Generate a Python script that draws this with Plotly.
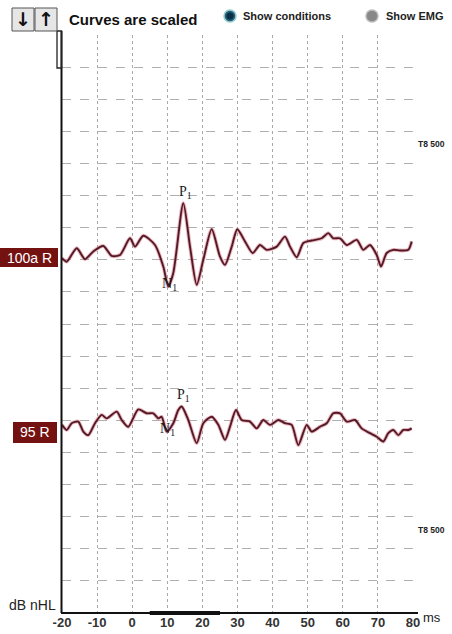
import plotly.graph_objects as go

# ---- data ----
t1 = [-20, -18.66, -15.81, -13.45, -11.08, -8.23, -5.84, -3.48, -0.63, 0.80, 3.16, 6.50, 8.86,
      10.28, 11.71, 14.56, 16.47, 18.38, 20.26, 22.65, 25.01, 26.44, 28.35, 29.94, 32.14, 34.33,
      36.41, 38.32, 41.17, 43.53, 44.96, 46.87, 48.75, 51.14, 53.99, 55.87, 57.29, 59.20, 61.11,
      63.96, 65.84, 67.75, 69.66, 70.88, 72.51, 74.39, 76.30, 78.66, 79.63]
a1 = [-0.01, -0.12, 0.30, -0.04, 0.20, 0.37, 0.06, 0.09, 0.61, 0.35, 0.69, 0.40, -0.27,
      -0.89, -0.47, 1.70, 0.35, -0.84, -0.06, 0.89, 0.04, -0.22, 0.35, 0.89, 0.51, 0.15,
      0.40, 0.25, 0.35, 0.66, 0.35, 0.02, 0.46, 0.54, 0.61, 0.77, 0.61, 0.61, 0.40,
      0.56, 0.25, 0.40, 0.09, -0.27, 0.15, 0.25, 0.23, 0.25, 0.51]

t2 = [-20, -18.66, -17.24, -15.36, -13.93, -12.51, -10.60, -8.69, -7.26, -4.42, -2.99, -1.11,
      1.74, 4.13, 6.01, 7.44, 8.40, 9.83, 11.71, 13.13, 14.10, 15.98, 18.38, 20.26, 22.65,
      24.53, 26.44, 27.86, 29.57, 31.20, 33.56, 35.47, 37.35, 39.26, 41.62, 43.53, 45.44,
      47.32, 49.72, 51.14, 53.50, 55.41, 57.29, 59.20, 61.11, 63.48, 65.38, 67.75, 69.66,
      71.54, 72.96, 74.39, 75.81, 77.24, 78.66, 79.63]
a2 = [0.16, 0.00, 0.21, 0.26, -0.05, -0.16, 0.21, 0.47, 0.36, 0.57, 0.31, 0.10,
      0.64, 0.52, 0.52, 0.36, 0.41, -0.05, 0.21, 0.62, 0.73, 0.31, -0.41, 0.21, 0.41,
      0.16, -0.31, 0.10, 0.62, 0.31, 0.26, 0.05, 0.31, 0.16, 0.31, 0.21, 0.16,
      -0.47, 0.16, -0.05, 0.10, 0.21, 0.52, 0.52, 0.26, 0.31, 0.05, -0.10, -0.21,
      -0.36, -0.10, 0.00, -0.16, 0.00, 0.00, 0.05]

trace_labels = ["100a R", "95 R"]
x_ticks = [-20, -10, 0, 10, 20, 30, 40, 50, 60, 70, 80]
stim_window = [5, 25]

# ---- layout constants ----
W = 452
S = 642 / 634          # compensate vertical viewport scaling
H = 642
L, R = 62, 413
T, B = 35 * S, 613 * S
PW, PH = R - L, B - T
YMAX = 18
offsets = [11.06, 5.70]

def px(x):
    return (x - L) / PW

def py(y):
    return (B - y * S) / PH

fig = go.Figure()

for t, a, off in [(t1, a1, offsets[0]), (t2, a2, offsets[1])]:
    y = [v + off for v in a]
    fig.add_trace(go.Scatter(x=t, y=y, mode="lines",
                             line=dict(color="rgba(215,110,125,0.5)", width=3.8, shape="spline", smoothing=0.7),
                             hoverinfo="skip", showlegend=False))
    fig.add_trace(go.Scatter(x=t, y=y, mode="lines",
                             line=dict(color="#521a27", width=1.9, shape="spline", smoothing=0.7),
                             showlegend=False))

# peak labels computed from data
ann = []
for t, a, off in [(t1, a1, offsets[0]), (t2, a2, offsets[1])]:
    pi = max([i for i in range(len(t)) if 12 <= t[i] <= 18], key=lambda i: a[i])
    ni = min([i for i in range(len(t)) if 7 <= t[i] <= 13], key=lambda i: a[i])
    ann.append(dict(x=t[pi], y=a[pi] + off, text="P<sub>1</sub>", showarrow=False, xshift=2, yshift=11,
                    font=dict(family="Liberation Serif", size=14, color="#1a1a1a")))
    ann.append(dict(x=t[ni], y=a[ni] + off, text="N<sub>1</sub>", showarrow=False, xshift=1, yshift=2,
                    font=dict(family="Liberation Serif", size=14, color="#1a1a1a")))

shapes = []
# bottom axis line
shapes.append(dict(type="line", xref="paper", yref="paper", x0=px(61), x1=px(418), y0=0, y1=0,
                   line=dict(color="#111", width=2)))
# stimulus marker
shapes.append(dict(type="line", xref="x", yref="paper", x0=stim_window[0], x1=stim_window[1], y0=0, y1=0,
                   line=dict(color="#111", width=4)))
# left axis
shapes.append(dict(type="line", xref="paper", yref="paper", x0=px(61.5), x1=px(61.5), y0=0, y1=py(31),
                   line=dict(color="#111", width=2)))
# scale bracket
shapes.append(dict(type="rect", xref="paper", yref="paper", x0=px(57), x1=px(61.5), y0=py(68), y1=py(31),
                   line=dict(color="#222", width=1.3)))
# buttons
for x0 in [12, 35]:
    shapes.append(dict(type="rect", xref="paper", yref="paper", x0=px(x0), x1=px(x0 + 22), y0=py(31), y1=py(8),
                       fillcolor="#e6e6e6", line=dict(color="#555", width=1)))
# label boxes
shapes.append(dict(type="rect", xref="paper", yref="paper", x0=px(0), x1=px(58), y0=py(267), y1=py(248),
                   fillcolor="#741212", line=dict(width=0)))
shapes.append(dict(type="rect", xref="paper", yref="paper", x0=px(13), x1=px(57), y0=py(443), y1=py(422),
                   fillcolor="#741212", line=dict(width=0)))
# radio buttons
shapes.append(dict(type="circle", xref="paper", yref="paper", x0=px(224), x1=px(236), y0=py(22), y1=py(10),
                   fillcolor="#1f5f7a", line=dict(color="#9cc", width=1.5)))
shapes.append(dict(type="circle", xref="paper", yref="paper", x0=px(226.5), x1=px(233.5), y0=py(19.5), y1=py(12.5),
                   fillcolor="#0d2f45", line=dict(width=0)))
shapes.append(dict(type="circle", xref="paper", yref="paper", x0=px(366), x1=px(378), y0=py(22), y1=py(10),
                   fillcolor="#888", line=dict(color="#bbb", width=1.5)))

def pann(x, y, text, size, xanchor="left", color="#111", family="Liberation Sans", bold=False):
    return dict(xref="paper", yref="paper", x=px(x), y=py(y), text=text, showarrow=False,
                xanchor=xanchor, yanchor="middle",
                font=dict(family=family, size=size, color=color, weight="bold" if bold else "normal"))

ann += [
    pann(23, 19.5, "↓", 19, "center", family="DejaVu Sans", bold=True),
    pann(46, 19.5, "↑", 19, "center", family="DejaVu Sans", bold=True),
    pann(67, 20, "Curves are scaled", 15, bold=True),
    pann(241, 16, "Show conditions", 11, bold=True, color="#222"),
    pann(384, 16, "Show EMG", 11, bold=True, color="#222"),
    pann(29, 257.5, trace_labels[0], 14, "center", color="white"),
    pann(35, 432.5, trace_labels[1], 14, "center", color="white"),
    pann(416, 143.5, "T8 500", 8.5, bold=True, color="#222"),
    pann(416, 530, "T8 500", 8.5, bold=True, color="#222"),
    pann(7, 605, "dB nHL", 14, color="#222"),
    pann(421, 617, "ms", 13, color="#222"),
]

fig.update_layout(
    width=W, height=H,
    margin=dict(l=L, r=W - R, t=T, b=H - B, pad=0),
    paper_bgcolor="white", plot_bgcolor="white",
    showlegend=False,
    shapes=shapes, annotations=ann,
    xaxis=dict(range=[-20, 80], tickvals=x_ticks, ticktext=[str(v) for v in x_ticks],
               showgrid=True, gridcolor="#a8a8a8", griddash="dot", gridwidth=1,
               zeroline=False, showline=False, ticks="",
               tickfont=dict(family="Liberation Sans", size=13, color="#333", weight="bold")),
    yaxis=dict(range=[0, YMAX], dtick=1, showticklabels=False,
               showgrid=True, gridcolor="#b0b0b0", griddash="dash", gridwidth=1,
               zeroline=False, showline=False, ticks=""),
)

fig.write_html("out.html", config={"displayModeBar": False, "staticPlot": True},
               post_script="document.documentElement.style.margin='0';document.body.style.margin='0';"
                           "document.body.style.padding='0';document.body.style.overflow='hidden';")
